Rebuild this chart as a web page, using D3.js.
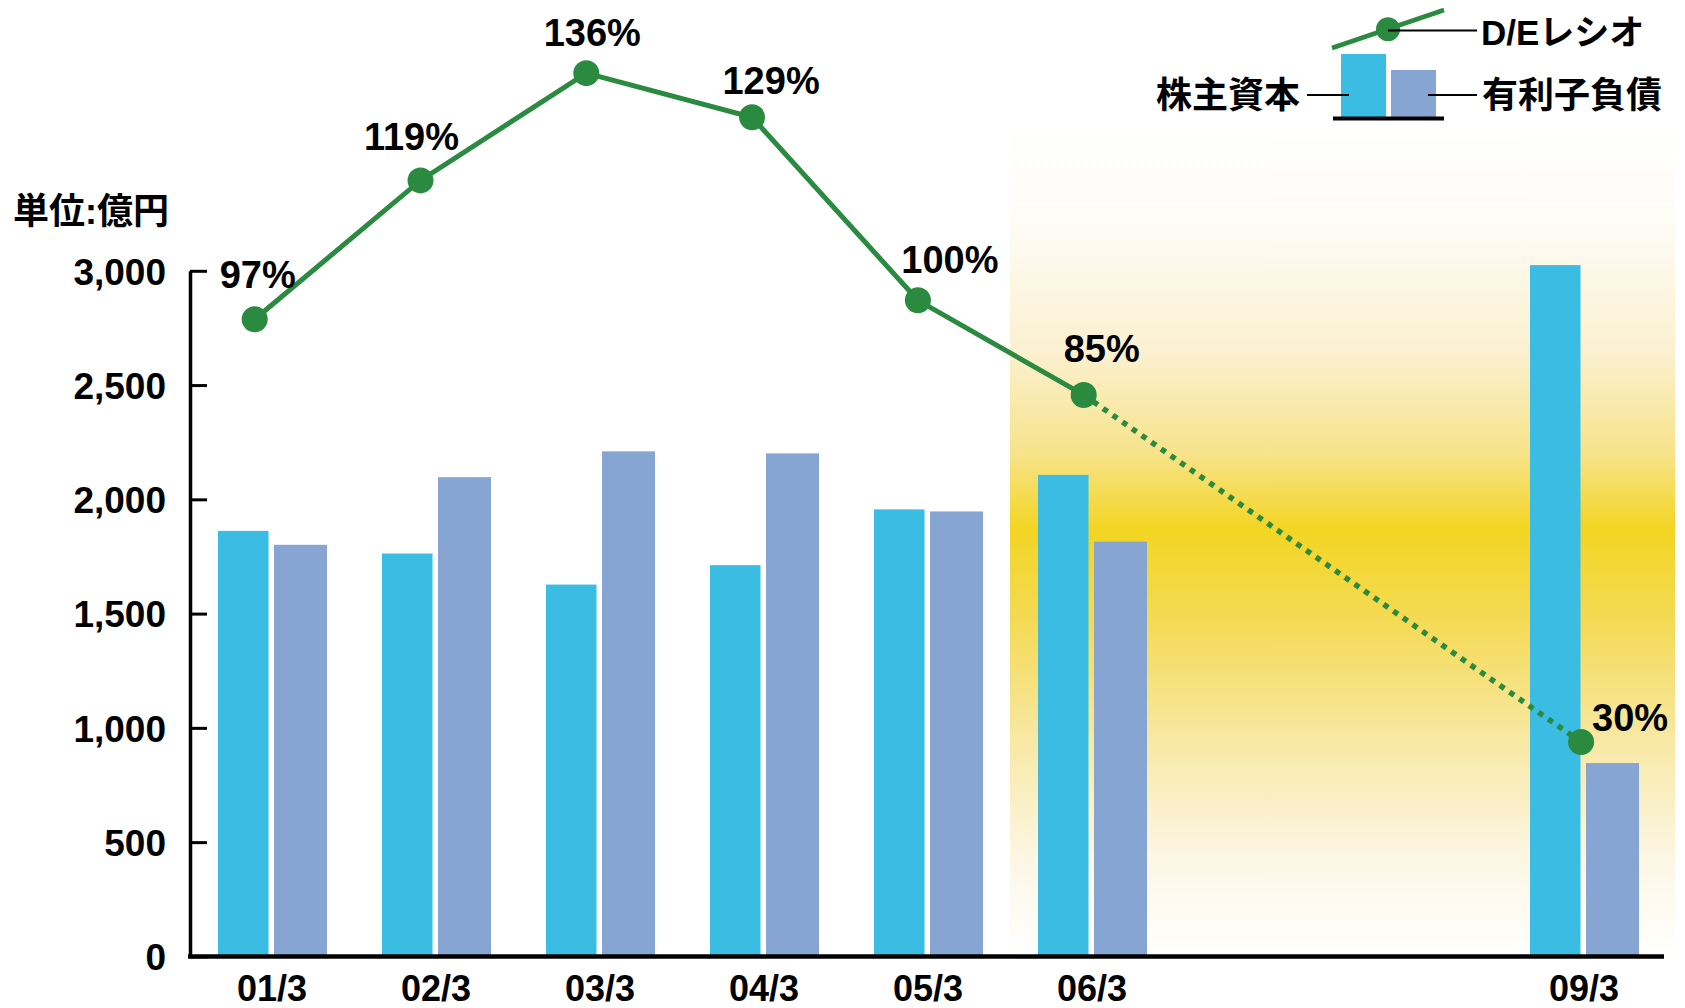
<!DOCTYPE html>
<html><head><meta charset="utf-8">
<script src="https://cdn.jsdelivr.net/npm/d3@7/dist/d3.min.js"></script>
<style>
html,body{margin:0;padding:0;background:#fff;}
svg{display:block;}
text{font-family:"Liberation Sans",Arial,"Noto Sans CJK JP",sans-serif;font-weight:bold;fill:#000;}
</style></head>
<body>
<svg id="chart" width="1685" height="1008"></svg>
<script>
// ---- data ----
const allPeriods = ['01/3','02/3','03/3','04/3','05/3','06/3','07/3','08/3','09/3'];
const periods    = ['01/3','02/3','03/3','04/3','05/3','06/3','09/3'];
const equity     = [1862, 1763, 1627, 1712, 1956, 2107, 3025];   // 株主資本
const debt       = [1801, 2097, 2210, 2201, 1947, 1815, 846];    // 有利子負債
const deRatio    = [97, 119, 136, 129, 100, 85, 30];             // D/Eレシオ (%)
const yTicks     = [0, 500, 1000, 1500, 2000, 2500, 3000];
const seriesNames = ['株主資本', '有利子負債', 'D/Eレシオ'];
const unitLabel  = '単位:億円';
// label nudges (layout only)
const labelNudge = [[3,-45],[-9,-44],[6,-41],[19,-37],[32,-41],[18,-47],[49,-25]];

const svg = d3.select('#chart');
const colEq = '#3bbde3', colDebt = '#86a5d3', colLine = '#2a8a3f';

const x = d3.scaleBand().domain(allPeriods).range([190, 1666]).paddingInner(0).paddingOuter(0);
const y = d3.scaleLinear().domain([0, 3000]).range([956.4, 270.8]);
const xLine = d3.scalePoint().domain(allPeriods).range([254.7, 1581.1]);
const yLine = d3.scaleLinear().domain([0, 150]).range([931.3, -15.2]);

// gradient band
const defs = svg.append('defs');
const grad = defs.append('linearGradient').attr('id','hl').attr('x1',0).attr('y1',0).attr('x2',0).attr('y2',1);
[[0,'#ffffff'],[0.12,'#fefcf7'],[0.28,'#fbf0cf'],[0.4,'#f7e38a'],[0.49,'#f3d523'],[0.6,'#f4da55'],[0.75,'#f8e9a8'],[0.88,'#fcf6e3'],[1,'#ffffff']]
  .forEach(([o,c]) => grad.append('stop').attr('offset',o).attr('stop-color',c));
const gx0 = x('06/3');
svg.append('rect').attr('x', gx0).attr('y', 118)
  .attr('width', x.range()[1] + 9 - gx0).attr('height', y(0) - 118)
  .attr('fill','url(#hl)');

// bars
const c = p => x(p) + x.bandwidth()/2;
svg.append('g').selectAll('rect').data(periods).join('rect')
  .attr('x', p => c(p) - 54).attr('width', 50.5)
  .attr('y', (p,i) => y(equity[i])).attr('height', (p,i) => y(0) - y(equity[i]))
  .attr('fill', colEq);
svg.append('g').selectAll('rect').data(periods).join('rect')
  .attr('x', p => c(p) + 2).attr('width', 53)
  .attr('y', (p,i) => y(debt[i])).attr('height', (p,i) => y(0) - y(debt[i]))
  .attr('fill', colDebt);

// y axis
const yAxis = svg.append('g').attr('transform','translate(190,0)')
  .call(d3.axisLeft(y).tickValues(yTicks).tickFormat(d3.format(',')).tickSizeInner(-17).tickSizeOuter(0).tickPadding(24));
yAxis.select('.domain').attr('stroke','#000').attr('stroke-width',3.5);
yAxis.selectAll('.tick line').attr('stroke','#000').attr('stroke-width',3);
yAxis.selectAll('.tick text').attr('font-size',37).attr('font-family','"Liberation Sans",Arial,sans-serif').attr('font-weight','bold').attr('fill','#000').attr('dy','0.36em');

// x axis
const xAxis = svg.append('g').attr('transform',`translate(0,${y(0)})`)
  .call(d3.axisBottom(x).tickValues(periods).tickSize(0).tickPadding(19));
xAxis.select('.domain').attr('stroke','#000').attr('stroke-width',4.5).attr('d', `M188,0H${x.range()[1]-2}`);
xAxis.selectAll('.tick text').attr('font-size',36).attr('font-family','"Liberation Sans",Arial,sans-serif').attr('font-weight','bold').attr('fill','#000');

// D/E line
const pts = periods.map((p,i) => [xLine(p), yLine(deRatio[i])]);
const line = d3.line();
svg.append('path').attr('d', line(pts.slice(0,6))).attr('fill','none').attr('stroke',colLine).attr('stroke-width',5);
svg.append('path').attr('d', line(pts.slice(5))).attr('fill','none').attr('stroke',colLine).attr('stroke-width',5.5).attr('stroke-dasharray','5.5,6.3');
svg.append('g').selectAll('circle').data(pts).join('circle')
  .attr('cx', d => d[0]).attr('cy', d => d[1]).attr('r', 13).attr('fill', colLine);
svg.append('g').selectAll('text').data(pts).join('text')
  .attr('x', (d,i) => d[0] + labelNudge[i][0]).attr('y', (d,i) => d[1] + labelNudge[i][1])
  .attr('dy','0.36em').attr('text-anchor','middle').attr('font-size',38)
  .text((d,i) => deRatio[i] + '%');

// unit label
svg.append('text').attr('x', 13).attr('y', 210.6).attr('dy','0.36em').attr('font-size',36).text(unitLabel);

// legend
const lg = svg.append('g');
lg.append('line').attr('x1',1332).attr('y1',48).attr('x2',1444).attr('y2',10).attr('stroke',colLine).attr('stroke-width',4.5);
lg.append('circle').attr('cx',1388).attr('cy',29.3).attr('r',12).attr('fill',colLine);
lg.append('line').attr('x1',1388).attr('y1',30.5).attr('x2',1477).attr('y2',30.5).attr('stroke','#000').attr('stroke-width',2);
lg.append('text').attr('x',1481).attr('y',32).attr('dy','0.36em').attr('font-size',35).text(seriesNames[2]);
lg.append('rect').attr('x',1341).attr('y',54).attr('width',45).attr('height',63).attr('fill',colEq);
lg.append('rect').attr('x',1391).attr('y',70).attr('width',45).attr('height',47).attr('fill',colDebt);
lg.append('line').attr('x1',1333).attr('y1',118.5).attr('x2',1444).attr('y2',118.5).attr('stroke','#000').attr('stroke-width',4);
lg.append('line').attr('x1',1307).attr('y1',95).attr('x2',1349).attr('y2',95).attr('stroke','#000').attr('stroke-width',2);
lg.append('line').attr('x1',1428).attr('y1',95).attr('x2',1477).attr('y2',95).attr('stroke','#000').attr('stroke-width',2);
lg.append('text').attr('x',1300).attr('y',95).attr('dy','0.36em').attr('text-anchor','end').attr('font-size',36).text(seriesNames[0]);
lg.append('text').attr('x',1482).attr('y',95).attr('dy','0.36em').attr('font-size',36).text(seriesNames[1]);
</script>
</body></html>
